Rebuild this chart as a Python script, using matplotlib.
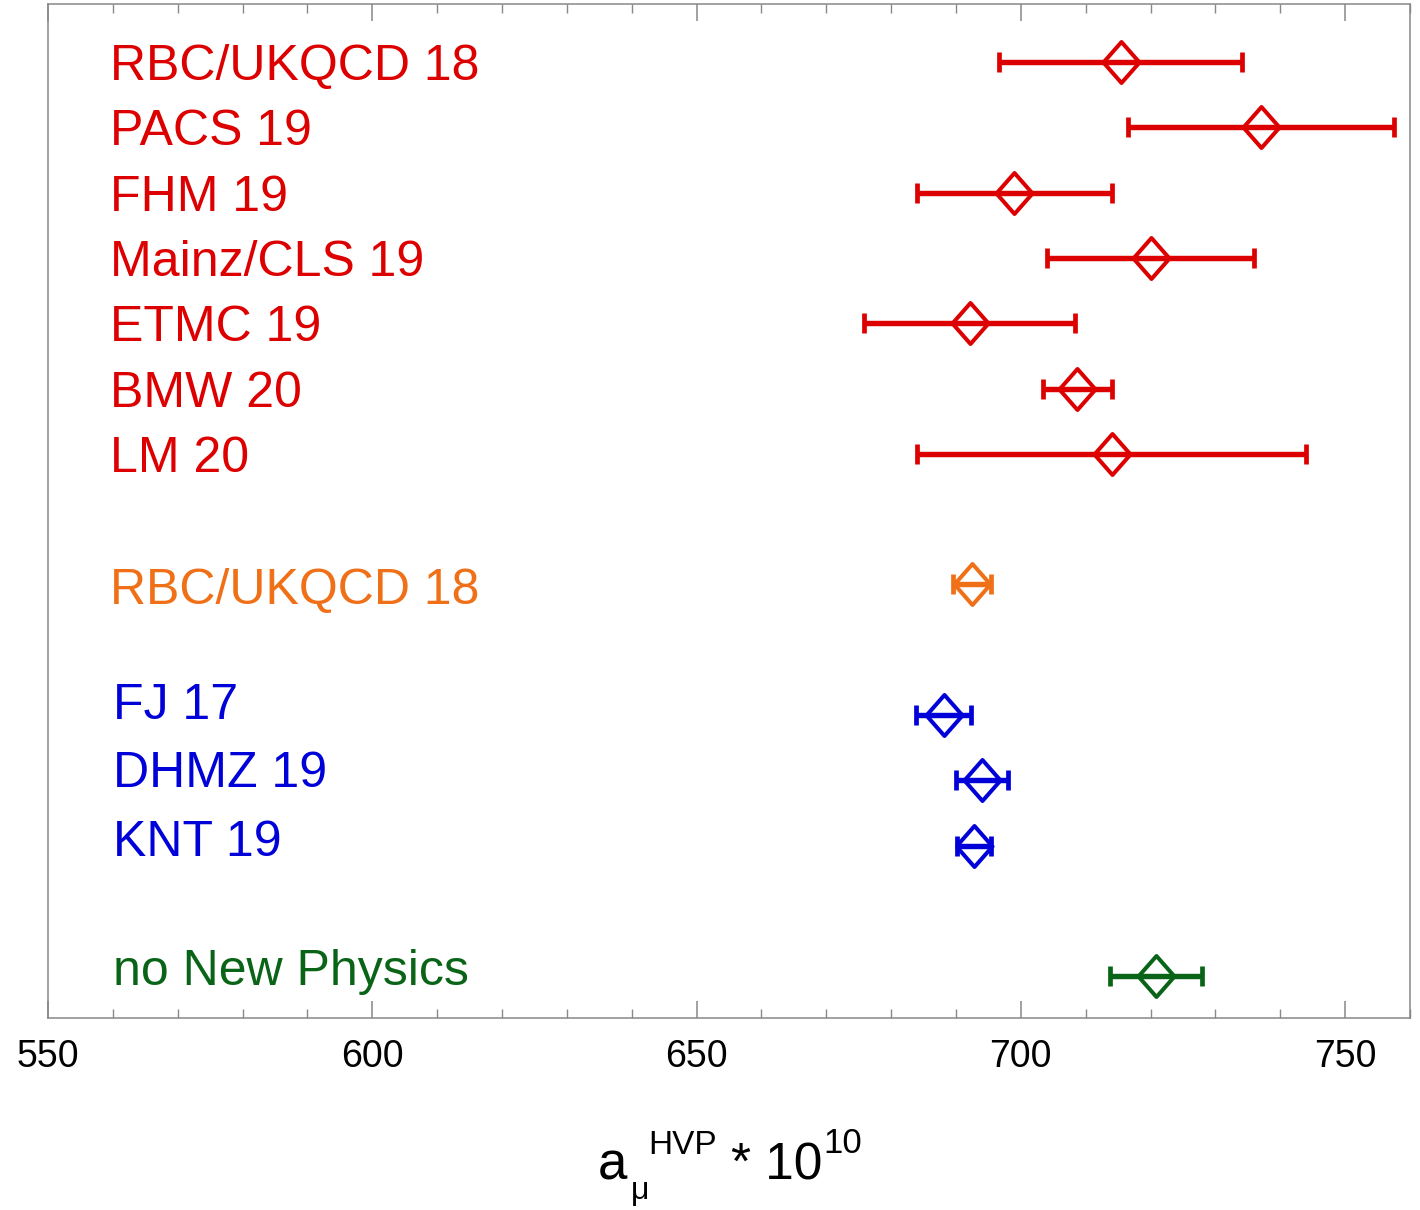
import matplotlib
matplotlib.use("Agg")
import matplotlib.pyplot as plt
from matplotlib.ticker import MultipleLocator

plt.rcParams['font.family'] = ['Liberation Sans', 'DejaVu Sans']

# ---- data ----
labels = ["RBC/UKQCD 18", "PACS 19", "FHM 19", "Mainz/CLS 19", "ETMC 19",
          "BMW 20", "LM 20", "RBC/UKQCD 18", "FJ 17", "DHMZ 19", "KNT 19",
          "no New Physics"]
values = [715.4, 737.0, 699.0, 720.0, 692.1, 708.7, 714.0, 692.5,
          688.1, 694.0, 692.8, 720.9]
errors = [18.7, 20.5, 15.0, 15.9, 16.3, 5.3, 30.0, 2.9,
          4.2, 4.0, 2.6, 7.1]
groups = ["lattice"] * 7 + ["hybrid"] + ["dispersive"] * 3 + ["nonp"]

# ---- styling ----
colors = {"lattice": "#dd0000", "hybrid": "#f07018",
          "dispersive": "#0000d8", "nonp": "#0a6418"}
# vertical label shift (pixels, negative = up) and label x (axes fraction)
label_dy = [0, 0, 0, 0, 0, 0, 0, 2, -14.5, -11, -8, -9]
label_x = {"lattice": 0.0455, "hybrid": 0.0455, "dispersive": 0.048, "nonp": 0.048}

# rows with a blank row between groups
rows = []
r = 0
prev = None
for g in groups:
    if prev is not None and g != prev:
        r += 1
    rows.append(r)
    r += 1
    prev = g

W, H = 1420, 1210
fig = plt.figure(figsize=(W / 100, H / 100), dpi=100)
ax = fig.add_axes([48 / W, 1 - 1018 / H, 1362 / W, 1014 / H])

diamond = [(-0.44, 0.0), (0.0, 0.5), (0.44, 0.0), (0.0, -0.5), (-0.44, 0.0)]

for lab, v, e, g, y, dy in zip(labels, values, errors, groups, rows, label_dy):
    c = colors[g]
    ax.errorbar([v], [y], xerr=[e], fmt='none', ecolor=c, elinewidth=3.9,
                capsize=7, capthick=3.4)
    ax.plot([v], [y], ls='none', marker=diamond, ms=29.5, mfc='none',
            mec=c, mew=2.9)
    ax.annotate(lab, xy=(label_x[g], y), xycoords=('axes fraction', 'data'),
                xytext=(0, -(18 + dy) * 0.72), textcoords='offset points',
                ha='left', va='baseline', fontsize=36, color=c)

ax.set_xlim(550, 760)
ax.set_ylim(14 + 41.8 / 65.3, -58 / 65.3)

ax.xaxis.set_major_locator(MultipleLocator(50))
ax.xaxis.set_minor_locator(MultipleLocator(10))
ax.set_yticks([])
ax.tick_params(axis='x', which='both', direction='in', top=True, bottom=True,
               colors='#888888', labelcolor='black', labelsize=27, pad=15)
ax.tick_params(axis='x', which='major', length=12, width=1.1)
ax.tick_params(axis='x', which='minor', length=6.5, width=1.0)
for s in ax.spines.values():
    s.set_color('#888888')
    s.set_linewidth(1.1)

# x-axis title: a_mu^HVP * 10^10, composed piece by piece
def ptext(x, y, s, size):
    fig.text(x / W, 1 - y / H, s, ha='left', va='baseline', fontsize=size,
             color='black')

ptext(598, 1180, "a", 38)
ptext(631, 1199, "\u03bc", 23)
ptext(648, 1154, "HVP", 24)
ptext(731, 1180, "* 10", 37)
ptext(823, 1153, "10", 25)

fig.savefig("out.png", dpi=100)
